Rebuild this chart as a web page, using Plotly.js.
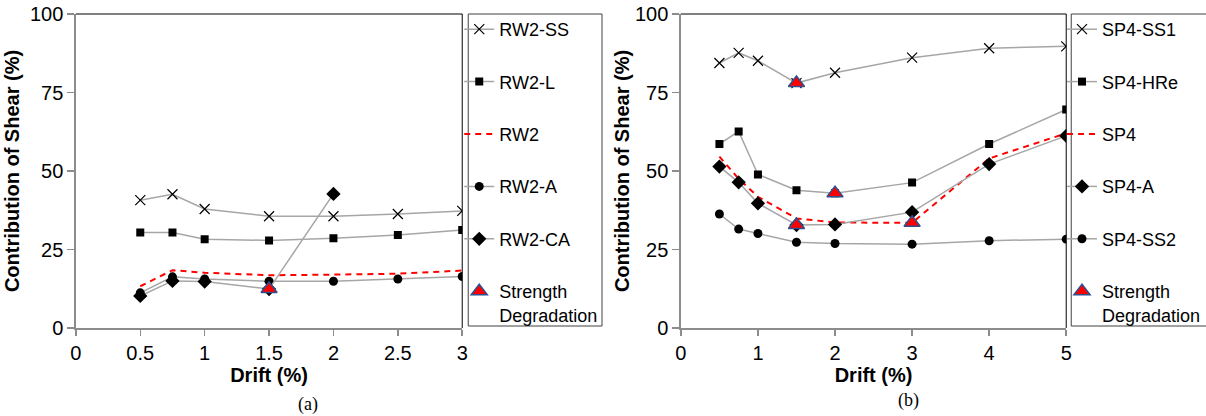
<!DOCTYPE html>
<html>
<head>
<meta charset="utf-8">
<script src="https://cdn.plot.ly/plotly-3.0.1.min.js"></script>
<style>html,body{margin:0;padding:0;background:#fff;}#chart{width:1206px;height:416px;}</style>
</head>
<body>
<div id="chart"></div>
<script>
// ---- Data ----
const driftA = [0.5, 0.75, 1, 1.5, 2, 2.5, 3];
const rw2SS = [40.7, 42.6, 37.9, 35.6, 35.6, 36.3, 37.3];
const rw2L  = [30.4, 30.4, 28.3, 27.9, 28.6, 29.6, 31.2];
const rw2   = [13.3, 18.4, 17.6, 16.8, 17.0, 17.3, 18.3];
const rw2A  = [11.2, 16.3, 15.6, 14.9, 14.9, 15.6, 16.4];
const driftCA = [0.5, 0.75, 1, 1.5, 2];
const rw2CA = [10.2, 15.0, 14.8, 12.4, 42.7];
const degradAx = [1.5];
const degradAy = [12.4];

const driftB = [0.5, 0.75, 1, 1.5, 2, 3, 4, 5];
const sp4SS1 = [84.4, 87.6, 85.1, 78.0, 81.3, 86.1, 89.1, 89.7];
const sp4HRe = [58.6, 62.6, 48.9, 43.9, 42.9, 46.3, 58.6, 69.6];
const sp4    = [54.6, 47.5, 41.8, 34.9, 33.6, 33.5, 54.0, 62.0];
const sp4A   = [51.4, 46.4, 39.7, 32.8, 33.0, 36.9, 52.2, 61.2];
const sp4SS2 = [36.3, 31.5, 30.1, 27.3, 26.9, 26.7, 27.8, 28.3];
const degradBx = [1.5, 2, 1.5, 3];
const degradBy = [78.0, 42.9, 32.8, 33.5];

const namesA = ['RW2-SS', 'RW2-L', 'RW2', 'RW2-A', 'RW2-CA', 'Strength<br>Degradation'];
const namesB = ['SP4-SS1', 'SP4-HRe', 'SP4', 'SP4-A', 'SP4-SS2', 'Strength<br>Degradation'];
const xTicksA = [0, 0.5, 1, 1.5, 2, 2.5, 3];
const xTicksB = [0, 1, 2, 3, 4, 5];
const yTicks = [0, 25, 50, 75, 100];

// ---- Styles ----
const GRAY = '#a6a6a6';
const FONT = 'Liberation Sans, Arial, sans-serif';
function grayLine(x, y, name, sym, size, xa, ya, leg, grp) {
  return {x: x, y: y, name: name, type: 'scatter', mode: 'lines+markers',
    xaxis: xa, yaxis: ya, legend: leg, legendgroup: grp,
    line: {color: GRAY, width: 1.5},
    marker: {symbol: sym, size: size, color: '#000',
      line: {color: '#000', width: sym === 'x-thin' ? 1.2 : 0}}};
}
function redDash(x, y, name, xa, ya, leg, grp) {
  return {x: x, y: y, name: name, type: 'scatter', mode: 'lines',
    xaxis: xa, yaxis: ya, legend: leg, legendgroup: grp,
    line: {color: '#ff0000', width: 2, dash: '6px,5px'}};
}
function tri(x, y, name, xa, ya, leg, grp) {
  return {x: x, y: y, name: name, type: 'scatter', mode: 'markers',
    xaxis: xa, yaxis: ya, legend: leg, legendgroup: grp,
    marker: {symbol: 'triangle-up', size: 14, color: '#ff0000',
      line: {color: '#2f4f8f', width: 1.5}}};
}

const traces = [
  grayLine(driftA, rw2SS, namesA[0], 'x-thin', 10, 'x', 'y', 'legend', 'a1'),
  grayLine(driftA, rw2L, namesA[1], 'square', 8, 'x', 'y', 'legend', 'a2'),
  redDash(driftA, rw2, namesA[2], 'x', 'y', 'legend', 'a3'),
  grayLine(driftA, rw2A, namesA[3], 'circle', 9, 'x', 'y', 'legend', 'a4'),
  grayLine(driftCA, rw2CA, namesA[4], 'diamond', 11, 'x', 'y', 'legend', 'a5'),
  tri(degradAx, degradAy, namesA[5], 'x', 'y', 'legend', 'a6'),

  grayLine(driftB, sp4SS1, namesB[0], 'x-thin', 10, 'x2', 'y2', 'legend2', 'b1'),
  grayLine(driftB, sp4HRe, namesB[1], 'square', 8, 'x2', 'y2', 'legend2', 'b2'),
  redDash(driftB, sp4, namesB[2], 'x2', 'y2', 'legend2', 'b3'),
  grayLine(driftB, sp4A, namesB[3], 'diamond', 11, 'x2', 'y2', 'legend2', 'b4'),
  grayLine(driftB, sp4SS2, namesB[4], 'circle', 9, 'x2', 'y2', 'legend2', 'b5'),
  tri(degradBx, degradBy, namesB[5], 'x2', 'y2', 'legend2', 'b6')
];

const W = 1206, H = 416;
const px = v => v / W;
const py = v => 1 - v / H;

function xAxis(domain, ticks, range) {
  return {domain: domain, range: range, tickvals: ticks, ticktext: ticks.map(String),
    showgrid: false, zeroline: false, showline: true, linecolor: '#8c8c8c', linewidth: 1.5,
    ticks: 'outside', ticklen: 6, tickcolor: '#8c8c8c', tickwidth: 1.5,
    tickfont: {family: FONT, size: 20, color: '#000'},
    title: {text: 'Drift (%)', font: {family: FONT, size: 20, color: '#000', weight: 'bold'}, standoff: 0},
    fixedrange: true};
}
function yAxis(anchor, standoff) {
  return {domain: [py(328), py(14)], range: [0, 100], tickvals: yTicks, ticktext: yTicks.map(String),
    anchor: anchor,
    showgrid: false, zeroline: false, showline: true, linecolor: '#8c8c8c', linewidth: 1.5,
    ticks: 'outside', ticklen: 7, tickcolor: '#8c8c8c', tickwidth: 1.5,
    tickfont: {family: FONT, size: 20, color: '#000'},
    title: {text: 'Contribution of Shear (%)', font: {family: FONT, size: 20, color: '#000', weight: 'bold'}, standoff: standoff},
    fixedrange: true};
}

const legendBase = {
  font: {family: FONT, size: 18, color: '#000'},
  bgcolor: 'rgba(0,0,0,0)', borderwidth: 0,
  tracegroupgap: 26, valign: 'top', itemwidth: 30, yanchor: 'top', xanchor: 'left'
};

const serif = {family: 'Liberation Serif, Times New Roman, serif', size: 18, color: '#000'};

const layout = {
  width: W, height: H,
  margin: {l: 0, r: 0, t: 0, b: 0},
  paper_bgcolor: '#fff', plot_bgcolor: '#fff',
  font: {family: FONT, color: '#000'},
  xaxis: Object.assign(xAxis([px(76), px(463)], xTicksA, [0, 3]), {anchor: 'y'}),
  yaxis: yAxis('x', 5),
  xaxis2: Object.assign(xAxis([px(682), px(1068)], xTicksB, [0, 5]), {anchor: 'y2'}),
  yaxis2: yAxis('x2', 0),
  legend: Object.assign({}, legendBase, {x: px(460), y: py(11)}),
  legend2: Object.assign({}, legendBase, {x: px(1064), y: py(11)}),
  shapes: [
    {type: 'line', xref: 'x domain', yref: 'y domain', x0: 0, x1: 1, y0: 1, y1: 1, line: {color: '#000', width: 1}},
    {type: 'line', xref: 'x domain', yref: 'y domain', x0: 1, x1: 1, y0: 0, y1: 1, line: {color: '#000', width: 1}},
    {type: 'line', xref: 'x2 domain', yref: 'y2 domain', x0: 0, x1: 1, y0: 1, y1: 1, line: {color: '#000', width: 1}},
    {type: 'line', xref: 'x2 domain', yref: 'y2 domain', x0: 1, x1: 1, y0: 0, y1: 1, line: {color: '#000', width: 1}},
    {type: 'rect', xref: 'paper', yref: 'paper', x0: px(469), x1: px(603), y0: py(326), y1: py(14), line: {color: '#404040', width: 1}},
    {type: 'rect', xref: 'paper', yref: 'paper', x0: px(1073), x1: px(1212), y0: py(326), y1: py(14), line: {color: '#404040', width: 1}}
  ],
  annotations: [
    {text: '(a)', xref: 'paper', yref: 'paper', x: px(309), y: py(404), xanchor: 'center', yanchor: 'middle',
      showarrow: false, font: serif},
    {text: '(b)', xref: 'paper', yref: 'paper', x: px(910), y: py(400), xanchor: 'center', yanchor: 'middle',
      showarrow: false, font: serif}
  ]
};

Plotly.newPlot('chart', traces, layout, {displayModeBar: false, staticPlot: true});
</script>
</body>
</html>
